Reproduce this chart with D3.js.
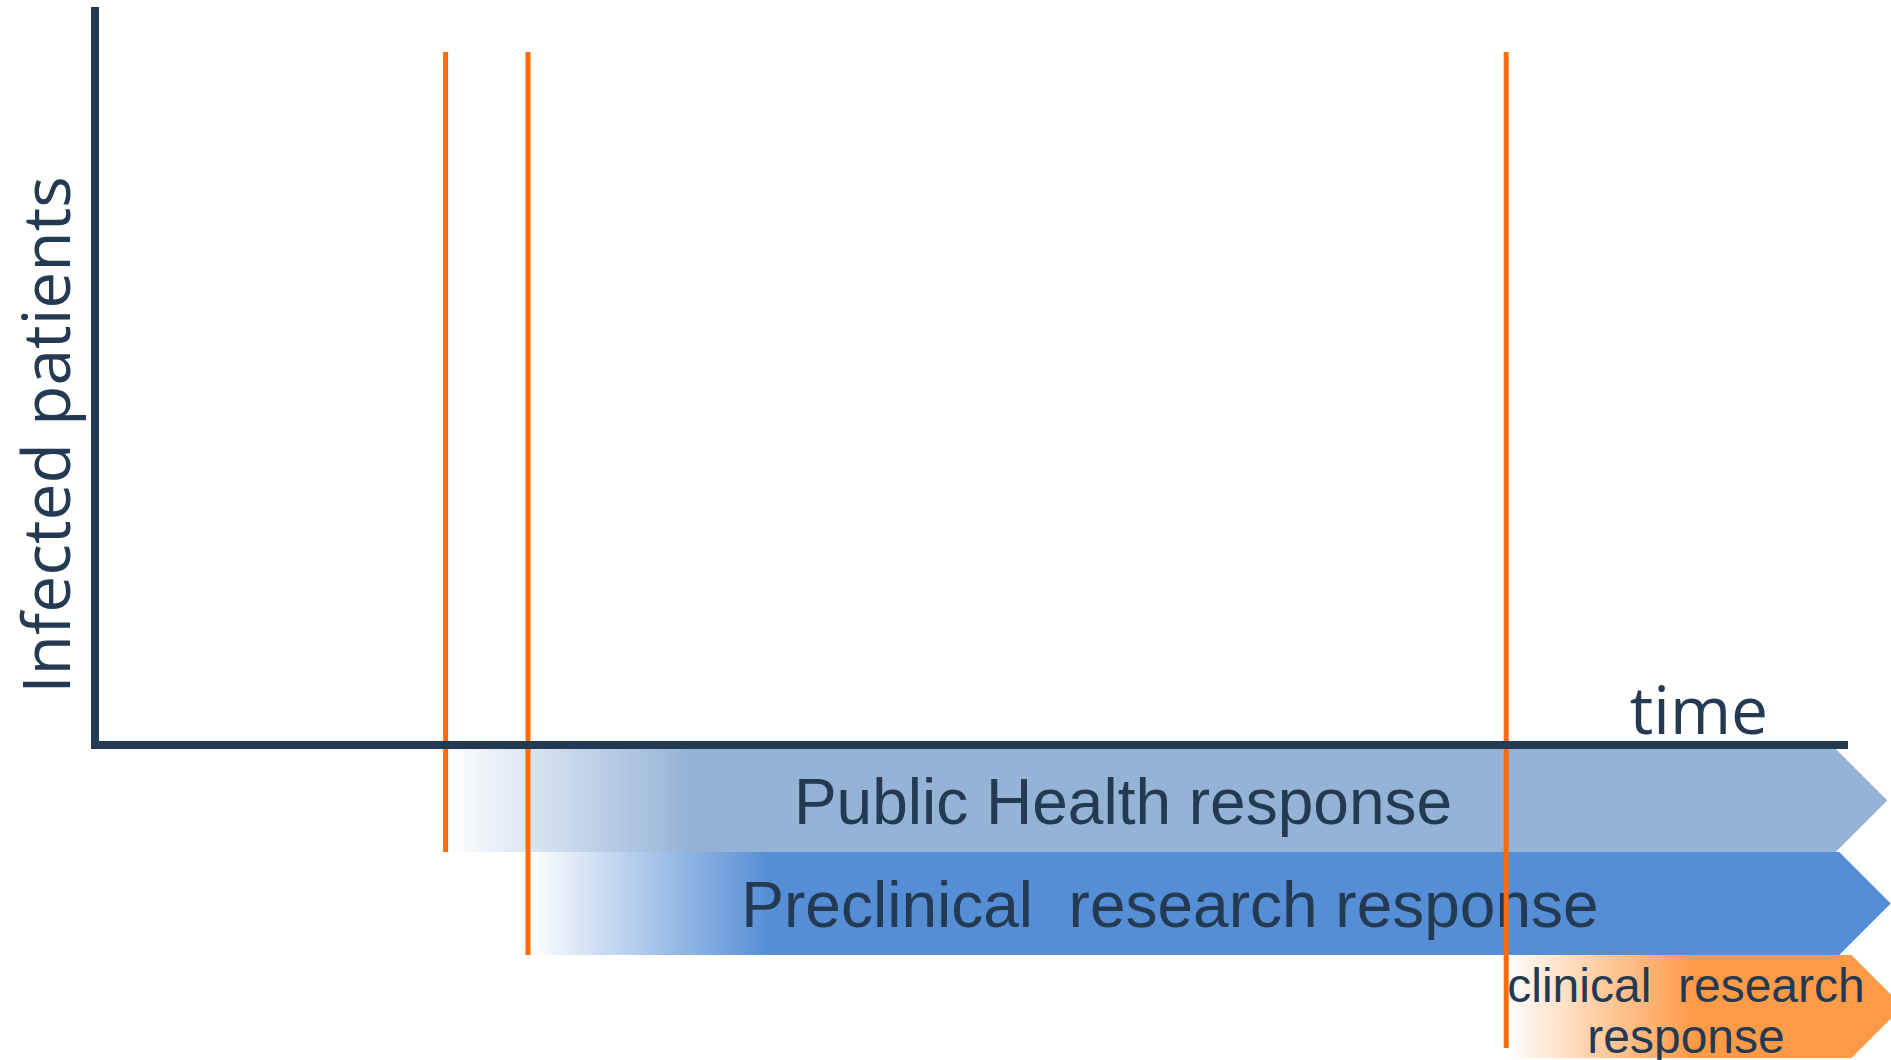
<!DOCTYPE html>
<html>
<head>
<meta charset="utf-8">
<script src="https://cdn.jsdelivr.net/npm/d3@7"></script>
<style>
  body { margin: 0; background: #fff; }
  svg { display: block; }
</style>
</head>
<body>
<svg id="chart" width="1891" height="1060"></svg>
<script>
// phases of the outbreak response, in time units (0 = origin, 100 = end of axis)
const phases = ['Public Health response', 'Preclinical  research response', 'clinical  research response'];
const phaseLines = [['Public Health response'], ['Preclinical  research response'], ['clinical  research', 'response']];
const phaseStart = [20.0, 24.7, 80.5];   // where each orange marker sits
const phaseSolid = [33.9, 38.5, 91.2];   // where the fade-in is complete
const phaseEnd = [99.3, 99.5, 100.2];
const phaseColor = ['#95b3d7', '#558ed5', '#ff9a47'];

let svg = d3.select('#chart');
let width = +svg.attr('width');
let height = +svg.attr('height');

const navy = '#243a52';
const orange = '#ff6a0a';

let x = d3.scaleLinear().domain([0, 100]).range([95, 1848]);
let y = d3.scaleBand().domain(phases).range([749, 1058]);

let defs = svg.append('defs');

// fade-in gradients, one per phase
phases.forEach((p, i) => {
  let g = defs.append('linearGradient')
    .attr('id', 'fade' + i)
    .attr('gradientUnits', 'userSpaceOnUse')
    .attr('x1', x(phaseStart[i])).attr('x2', x(phaseSolid[i]))
    .attr('y1', 0).attr('y2', 0);
  g.append('stop').attr('offset', 0).attr('stop-color', phaseColor[i]).attr('stop-opacity', 0);
  g.append('stop').attr('offset', 1).attr('stop-color', phaseColor[i]).attr('stop-opacity', 1);
});

function arrowPath(i) {
  let x0 = x(phaseStart[i]) + 2;
  let x1 = x(phaseEnd[i]);
  let y0 = y(phases[i]);
  let y1 = y0 + y.bandwidth();
  let tip = y.bandwidth() / 2;
  return 'M' + x0 + ',' + y0 + 'L' + x1 + ',' + y0 +
    'L' + (x1 + tip) + ',' + (y0 + tip) + 'L' + x1 + ',' + y1 +
    'L' + x0 + ',' + y1 + 'Z';
}

// bars
svg.append('g').selectAll('path')
  .data(phases)
  .enter()
  .append('path')
    .attr('d', (_, i) => arrowPath(i))
    .attr('fill', (_, i) => 'url(#fade' + i + ')');

// bar labels
const labelSize = [64, 64, 48];
const labelCx = [1123, 1170, 1686];
svg.append('g').selectAll('text')
  .data(phases)
  .enter()
  .append('text')
    .attr('x', (_, i) => labelCx[i])
    .attr('y', (_, i) => phaseLines[i].length > 1 ? y(phases[i]) + 47 : y(phases[i]) + y.bandwidth() / 2 + 23)
    .attr('text-anchor', 'middle')
    .style('font-family', '"Liberation Sans", Arial, sans-serif')
    .style('font-size', (_, i) => labelSize[i] + 'px')
    .style('fill', navy)
    .style('white-space', 'pre')
    .each(function (_, i) {
      let t = d3.select(this);
      phaseLines[i].forEach((line, k) => {
        t.append('tspan')
          .attr('x', labelCx[i])
          .attr('dy', k === 0 ? 0 : 51)
          .text(line);
      });
    });

// orange markers
svg.append('g').selectAll('line')
  .data(phases)
  .enter()
  .append('line')
    .attr('x1', (_, i) => x(phaseStart[i]))
    .attr('x2', (_, i) => x(phaseStart[i]))
    .attr('y1', 52)
    .attr('y2', (_, i) => Math.min(y(phases[i]) + y.bandwidth(), 1048))
    .style('stroke', orange)
    .style('stroke-width', 5);

// axes
svg.append('line')
  .attr('x1', x(0)).attr('x2', x(0))
  .attr('y1', 7).attr('y2', 749)
  .style('stroke', navy).style('stroke-width', 8);
svg.append('line')
  .attr('x1', x(0) - 4).attr('x2', x(100))
  .attr('y1', 745).attr('y2', 745)
  .style('stroke', navy).style('stroke-width', 8);

svg.append('text')
  .attr('x', 1699).attr('y', 734)
  .attr('text-anchor', 'middle')
  .style('font-family', '"Open Sans", sans-serif')
  .style('font-size', '66px')
  .style('fill', navy)
  .text('time');

svg.append('text')
  .attr('transform', 'translate(70,435) rotate(-90)')
  .attr('text-anchor', 'middle')
  .style('font-family', '"Open Sans", sans-serif')
  .style('font-size', '66px')
  .style('fill', navy)
  .text('Infected patients');
</script>
</body>
</html>
